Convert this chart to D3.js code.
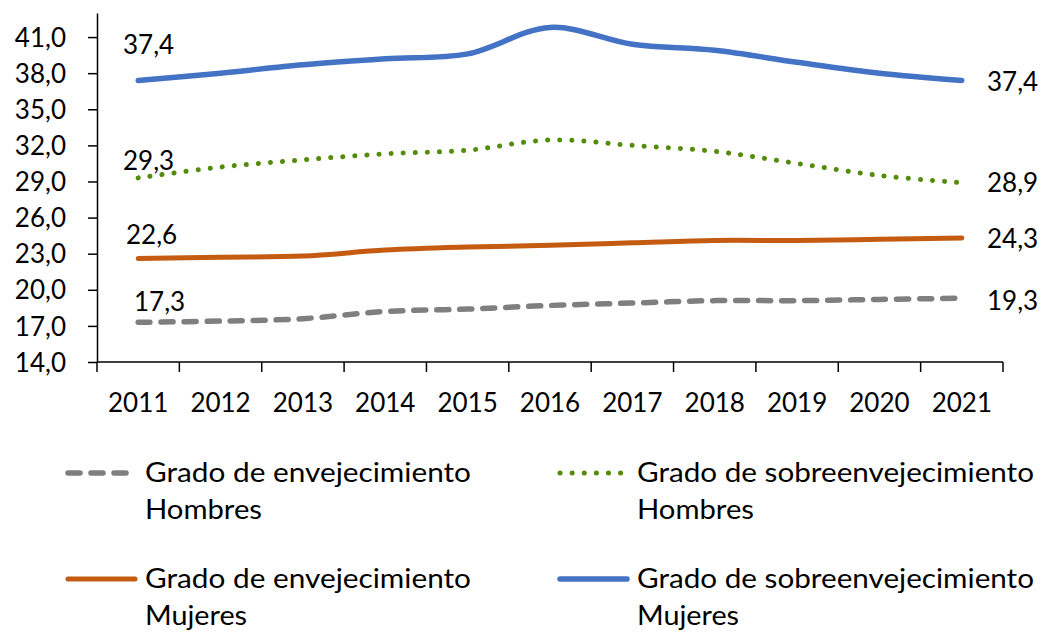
<!DOCTYPE html>
<html><head><meta charset="utf-8">
<script src="https://cdn.jsdelivr.net/npm/d3@7"></script>
<style>body{margin:0;background:#fff}svg{display:block}text{font-family:Lato,"Open Sans",sans-serif;fill:#000}</style>
</head><body><svg id="c" width="1055" height="632"></svg>
<script>
const years = ["2011","2012","2013","2014","2015","2016","2017","2018","2019","2020","2021"];
const envHombres = [17.3,17.4,17.6,18.2,18.4,18.7,18.9,19.1,19.1,19.2,19.3];
const sobreHombres = [29.3,30.2,30.8,31.3,31.6,32.45,32.0,31.5,30.5,29.5,28.9];
const envMujeres = [22.6,22.7,22.8,23.3,23.55,23.7,23.9,24.1,24.1,24.2,24.3];
const sobreMujeres = [37.4,38.0,38.7,39.2,39.6,41.8,40.4,39.9,38.9,38.0,37.4];
const yTicks = [14,17,20,23,26,29,32,35,38,41];

const series = [
  {name:["Grado de envejecimiento","Hombres"], values:envHombres, color:"#7f7f7f", dash:"12,11", width:5.5, first:"17,3", last:"19,3"},
  {name:["Grado de sobreenvejecimiento","Hombres"], values:sobreHombres, color:"#548c0a", dash:"0.1,12", width:5, first:"29,3", last:"28,9"},
  {name:["Grado de envejecimiento","Mujeres"], values:envMujeres, color:"#c55a11", dash:null, width:5, first:"22,6", last:"24,3"},
  {name:["Grado de sobreenvejecimiento","Mujeres"], values:sobreMujeres, color:"#4472c4", dash:null, width:5.5, first:"37,4", last:"37,4"}
];

const svg = d3.select("#c");
const x = d3.scaleBand().domain(years).range([97,1003]).padding(0);
const y = d3.scaleLinear().domain([14,43]).range([362,13]);
const fmt = v => d3.format(".1f")(v).replace(".", ",");
const FS = 26;

// axes
const yAxis = svg.append("g").attr("transform","translate(97,0)")
  .call(d3.axisLeft(y).tickValues(yTicks).tickFormat(fmt).tickSize(9).tickSizeOuter(0));
yAxis.select(".domain").attr("stroke","#000").attr("stroke-width",1.5);
yAxis.selectAll(".tick line").attr("stroke","#000").attr("stroke-width",1.5);
yAxis.selectAll(".tick text").attr("font-size",FS).attr("x",-31).attr("dy","0.35em").style("font-family","Lato");

const xg = svg.append("g").attr("transform","translate(0,362)");
xg.append("line").attr("x1",97).attr("x2",1003).attr("stroke","#000").attr("stroke-width",1.5);
const bounds = years.map(d=>x(d)).concat([x(years[years.length-1])+x.bandwidth()]);
xg.selectAll("line.t").data(bounds).join("line").attr("class","t")
  .attr("x1",d=>d).attr("x2",d=>d).attr("y1",0).attr("y2",10).attr("stroke","#000").attr("stroke-width",1.5);
xg.selectAll("text").data(years).join("text")
  .attr("x",d=>x(d)+x.bandwidth()/2).attr("y",50).attr("text-anchor","middle").attr("font-size",FS).text(d=>d);

const cx = d => x(d)+x.bandwidth()/2;
const line = d3.line().x((v,i)=>cx(years[i])).y(v=>y(v)).curve(d3.curveCatmullRom.alpha(0.5));

series.forEach(s=>{
  svg.append("path").attr("d",line(s.values)).attr("fill","none").attr("stroke",s.color)
    .attr("stroke-width",s.width).attr("stroke-linecap","round").attr("stroke-linejoin","round")
    .attr("stroke-dasharray",s.dash);
});

// data labels
const firstPos = [[134,302],[123,161],[126,235],[123,45]];
const lastPos = [[987,301],[987,183],[987,239],[987,82]];
series.forEach((s,i)=>{
  svg.append("text").attr("x",firstPos[i][0]).attr("y",firstPos[i][1]).attr("dy","0.35em").attr("font-size",FS).text(s.first);
  svg.append("text").attr("x",lastPos[i][0]).attr("y",lastPos[i][1]).attr("dy","0.35em").attr("font-size",FS).text(s.last);
});

// legend
const legWidths = {"Grado de envejecimiento":326,"Grado de sobreenvejecimiento":397,"Hombres":117,"Mujeres":102};
const legPos = [[65,473],[557,473],[65,579],[557,579]];
series.forEach((s,i)=>{
  const [lx,ly] = legPos[i];
  const g = svg.append("g");
  g.append("line").attr("x1",lx+3).attr("x2",lx+70).attr("y1",ly).attr("y2",ly).attr("stroke",s.color)
    .attr("stroke-width",s.width).attr("stroke-linecap","round").attr("stroke-dasharray",s.dash);
  g.selectAll("text").data(s.name).join("text").attr("x",lx+80).attr("y",(d,j)=>ly+j*37).attr("dy","0.35em")
    .attr("font-size",27).attr("textLength",d=>legWidths[d]).attr("lengthAdjust","spacingAndGlyphs").text(d=>d);
});
</script></body></html>
